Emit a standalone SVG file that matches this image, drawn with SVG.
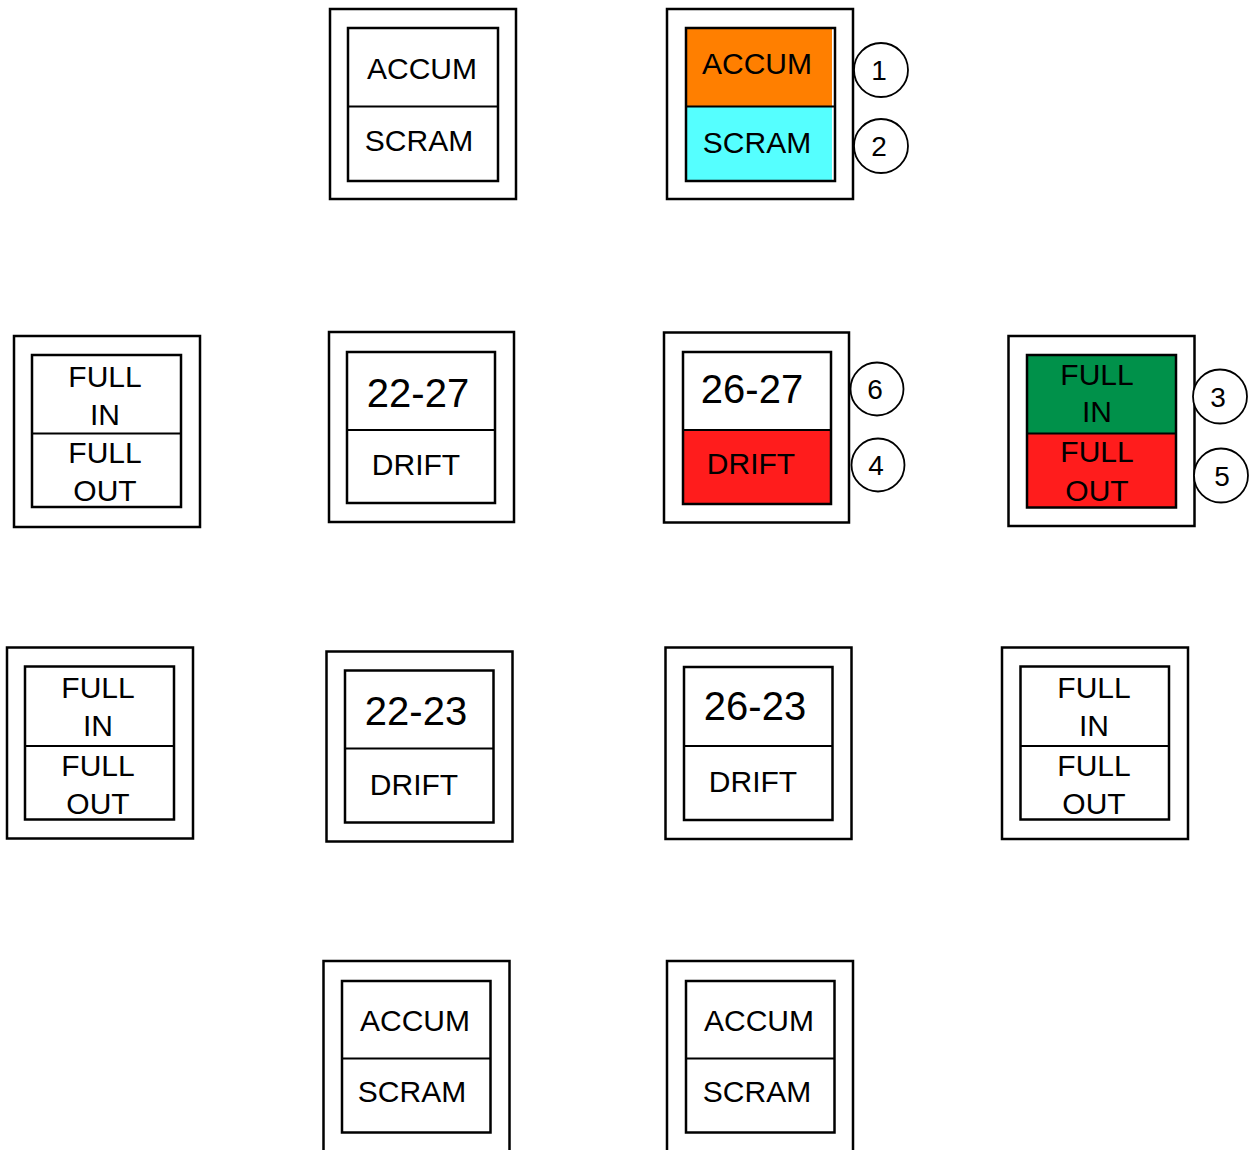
<svg xmlns="http://www.w3.org/2000/svg" width="1251" height="1150" viewBox="0 0 1251 1150">
  <style>
    .outer { fill: #ffffff; stroke: #000000; stroke-width: 2.5; }
    .inner { fill: none; stroke: #000000; stroke-width: 2.5; }
    .div { stroke: #000000; stroke-width: 2; }
    .t { font-family: "Liberation Sans", Arial, sans-serif; font-size: 30px; fill: #000000; text-anchor: middle; }
    .big { font-size: 40px; }
    .num { font-family: "Liberation Sans", Arial, sans-serif; font-size: 28px; fill: #000000; text-anchor: middle; }
    .ring { fill: #ffffff; stroke: #000000; stroke-width: 1.8; }
    .orange { fill: #ff7f00; }
    .cyan { fill: #55ffff; }
    .red { fill: #ff1c1c; }
    .green { fill: #00914a; }
  </style>
  <rect width="1251" height="1150" fill="#ffffff"/>

  <!-- Row 1 -->
  <g id="accum-scram-a">
    <rect class="outer" x="330" y="9" width="186" height="190"/>
    <rect class="inner" x="348" y="28" width="150" height="153"/>
    <line class="div" x1="348" y1="106.5" x2="498" y2="106.5"/>
    <text class="t" x="422" y="79">ACCUM</text>
    <text class="t" x="419" y="151">SCRAM</text>
  </g>
  <g id="accum-scram-b">
    <rect class="outer" x="667" y="9" width="186" height="190"/>
    <rect class="orange" x="686" y="28" width="146" height="78.5"/>
    <rect class="cyan" x="686" y="106.5" width="146" height="75"/>
    <rect class="inner" x="686" y="28" width="149" height="153"/>
    <line class="div" x1="686" y1="106.5" x2="835" y2="106.5"/>
    <text class="t" x="757" y="74">ACCUM</text>
    <text class="t" x="757" y="153">SCRAM</text>
  </g>
  <g id="marker-1">
    <circle class="ring" cx="881" cy="70" r="27"/>
    <text class="num" x="879" y="80">1</text>
  </g>
  <g id="marker-2">
    <circle class="ring" cx="881" cy="146" r="27"/>
    <text class="num" x="879" y="156">2</text>
  </g>

  <!-- Row 2 -->
  <g id="full-a">
    <rect class="outer" x="14" y="336" width="186" height="191"/>
    <rect class="inner" x="32" y="355" width="149" height="152"/>
    <line class="div" x1="32" y1="433.5" x2="181" y2="433.5"/>
    <text class="t" x="105" y="387">FULL</text>
    <text class="t" x="105" y="425">IN</text>
    <text class="t" x="105" y="463">FULL</text>
    <text class="t" x="105" y="501">OUT</text>
  </g>
  <g id="drift-22-27">
    <rect class="outer" x="329" y="332" width="185" height="190"/>
    <rect class="inner" x="347" y="352" width="148" height="151"/>
    <line class="div" x1="347" y1="430" x2="495" y2="430"/>
    <text class="t big" x="418" y="407">22-27</text>
    <text class="t" x="416" y="475">DRIFT</text>
  </g>
  <g id="drift-26-27">
    <rect class="outer" x="664" y="332.5" width="185" height="190"/>
    <rect class="red" x="683" y="430" width="148" height="74"/>
    <rect class="inner" x="683" y="352" width="148" height="152"/>
    <line class="div" x1="683" y1="430" x2="831" y2="430"/>
    <text class="t big" x="752" y="403">26-27</text>
    <text class="t" x="751" y="474">DRIFT</text>
  </g>
  <g id="marker-6">
    <circle class="ring" cx="877" cy="389" r="26.5"/>
    <text class="num" x="875" y="399">6</text>
  </g>
  <g id="marker-4">
    <circle class="ring" cx="878" cy="465" r="26.5"/>
    <text class="num" x="876" y="475">4</text>
  </g>
  <g id="full-b">
    <rect class="outer" x="1008.5" y="336" width="186" height="190"/>
    <rect class="green" x="1027" y="355" width="149" height="78.5"/>
    <rect class="red" x="1027" y="433.5" width="149" height="74"/>
    <rect class="inner" x="1027" y="355" width="149" height="152.5"/>
    <line class="div" x1="1027" y1="433.5" x2="1176" y2="433.5"/>
    <text class="t" x="1097" y="385">FULL</text>
    <text class="t" x="1097" y="422">IN</text>
    <text class="t" x="1097" y="462">FULL</text>
    <text class="t" x="1097" y="501">OUT</text>
  </g>
  <g id="marker-3">
    <circle class="ring" cx="1220" cy="396.5" r="27"/>
    <text class="num" x="1218" y="407">3</text>
  </g>
  <g id="marker-5">
    <circle class="ring" cx="1221" cy="475.5" r="27"/>
    <text class="num" x="1222" y="486">5</text>
  </g>

  <!-- Row 3 -->
  <g id="full-c">
    <rect class="outer" x="7" y="647.5" width="186" height="191"/>
    <rect class="inner" x="25" y="666.5" width="149" height="153"/>
    <line class="div" x1="25" y1="746" x2="174" y2="746"/>
    <text class="t" x="98" y="698">FULL</text>
    <text class="t" x="98" y="736">IN</text>
    <text class="t" x="98" y="776">FULL</text>
    <text class="t" x="98" y="814">OUT</text>
  </g>
  <g id="drift-22-23">
    <rect class="outer" x="326.5" y="651.5" width="186" height="190"/>
    <rect class="inner" x="345" y="670.5" width="148.5" height="152"/>
    <line class="div" x1="345" y1="748.5" x2="493.5" y2="748.5"/>
    <text class="t big" x="416" y="725">22-23</text>
    <text class="t" x="414" y="795">DRIFT</text>
  </g>
  <g id="drift-26-23">
    <rect class="outer" x="665.5" y="647.5" width="186" height="191.5"/>
    <rect class="inner" x="684" y="667" width="148.5" height="153"/>
    <line class="div" x1="684" y1="746" x2="832.5" y2="746"/>
    <text class="t big" x="755" y="720">26-23</text>
    <text class="t" x="753" y="792">DRIFT</text>
  </g>
  <g id="full-d">
    <rect class="outer" x="1002" y="647.5" width="186" height="191.5"/>
    <rect class="inner" x="1020.5" y="666.5" width="148.5" height="153"/>
    <line class="div" x1="1020.5" y1="746" x2="1169" y2="746"/>
    <text class="t" x="1094" y="698">FULL</text>
    <text class="t" x="1094" y="736">IN</text>
    <text class="t" x="1094" y="776">FULL</text>
    <text class="t" x="1094" y="814">OUT</text>
  </g>

  <!-- Row 4 -->
  <g id="accum-scram-c">
    <rect class="outer" x="323.5" y="961" width="186" height="192"/>
    <rect class="inner" x="342" y="981" width="148.5" height="151.5"/>
    <line class="div" x1="342" y1="1058.5" x2="490.5" y2="1058.5"/>
    <text class="t" x="415" y="1031">ACCUM</text>
    <text class="t" x="412" y="1102">SCRAM</text>
  </g>
  <g id="accum-scram-d">
    <rect class="outer" x="667" y="961" width="186" height="192"/>
    <rect class="inner" x="686" y="981" width="148.5" height="151.5"/>
    <line class="div" x1="686" y1="1058.5" x2="834.5" y2="1058.5"/>
    <text class="t" x="759" y="1031">ACCUM</text>
    <text class="t" x="757" y="1102">SCRAM</text>
  </g>
</svg>
